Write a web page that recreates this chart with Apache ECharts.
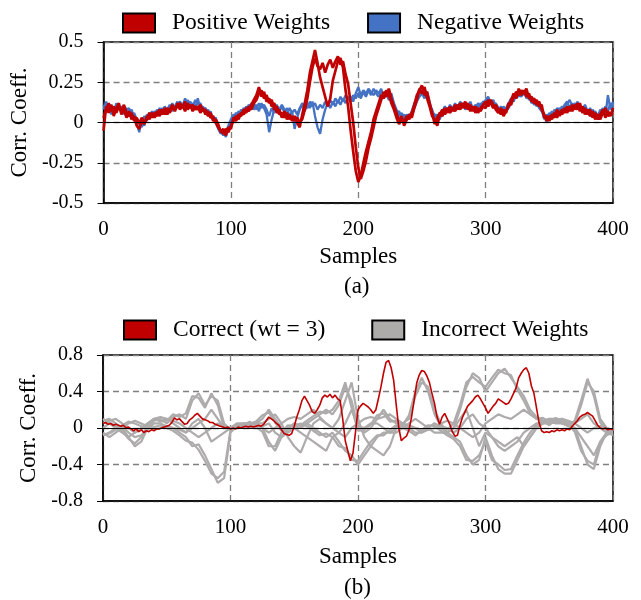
<!DOCTYPE html>
<html><head><meta charset="utf-8">
<script src="https://cdn.jsdelivr.net/npm/echarts@6/dist/echarts.min.js"></script>
<style>html,body{margin:0;padding:0;background:#fff;}#c{width:641px;height:600px;}</style>
</head><body><div id="c"></div>
<script>
// Panel (a): samples every 2
var stepA = 2;
var posA = [-0.05,0.10,0.06,0.11,0.04, 0.09,0.12,0.05,0.08,0.03, 0.07,0.02,0.04,-0.02,-0.04, 0.01,-0.01,0.04,0.02,0.06,
 0.03,0.07,0.04,0.08,0.05, 0.09,0.06,0.10,0.07,0.12, 0.08,0.11,0.07,0.12,0.09, 0.11,0.08,0.10,0.06,0.09,
 0.05,0.07,0.03,0.04,0.00, -0.03,-0.05,-0.07,-0.04,-0.06, -0.02,0.01,0.04,0.02,0.06, 0.05,0.09,0.07,0.11,0.14,
 0.17,0.22,0.16,0.19,0.13, 0.15,0.10,0.12,0.06,0.08, 0.03,0.07,0.02,0.05,0.01, 0.04,0.00,-0.03,0.05,0.12,
 0.20,0.31,0.38,0.45,0.37, 0.28,0.22,0.16,0.10,0.15, 0.26,0.32,0.38,0.40,0.34, 0.20,0.10,-0.05,-0.18,-0.30,
 -0.37,-0.33,-0.25,-0.18,-0.12, -0.06,0.02,0.07,0.12,0.17, 0.15,0.20,0.17,0.12,0.08, 0.03,-0.01,0.02,0.00,0.04,
 0.02,0.06,0.11,0.17,0.20, 0.23,0.17,0.19,0.12,0.06, -0.01,0.03,0.06,0.04,0.09, 0.06,0.10,0.07,0.11,0.08,
 0.12,0.09,0.13,0.08,0.11, 0.07,0.10,0.06,0.09,0.11, 0.13,0.10,0.14,0.11,0.08, 0.06,0.09,0.04,0.07,0.10,
 0.14,0.18,0.15,0.21,0.17, 0.20,0.16,0.18,0.13,0.15, 0.11,0.13,0.08,0.05,0.01, 0.04,0.02,0.06,0.03,0.07,
 0.05,0.09,0.06,0.10,0.07, 0.11,0.08,0.12,0.06,0.09, 0.05,0.08,0.03,0.06,0.02, 0.05,0.08,0.03,0.07,0.04, 0.09];
var posB = [0.03,0.08,0.12,0.07,0.10, 0.06,0.10,0.07,0.11,0.06, 0.04,0.06,0.01,0.03,-0.01, 0.03,0.00,0.02,0.06,0.03,
 0.06,0.04,0.08,0.05,0.09, 0.05,0.08,0.11,0.08,0.10, 0.12,0.09,0.13,0.08,0.11, 0.07,0.10,0.08,0.11,0.07,
 0.08,0.04,0.06,0.01,0.02, -0.01,-0.06,-0.04,-0.08,-0.03, -0.04,0.03,0.01,0.05,0.04, 0.08,0.06,0.10,0.08,0.12,
 0.14,0.18,0.20,0.15,0.17, 0.12,0.14,0.08,0.10,0.05, 0.06,0.03,0.06,0.02,0.04, 0.01,0.03,0.00,0.02,0.08,
 0.15,0.25,0.34,0.40,0.35, 0.33,0.37,0.31,0.36,0.39, 0.34,0.38,0.41,0.36,0.38, 0.30,0.24,0.12,0.00,-0.15,
 -0.28,-0.35,-0.30,-0.24,-0.16, -0.10,-0.03,0.04,0.09,0.14, 0.19,0.16,0.21,0.15,0.10, 0.06,0.01,0.04,-0.02,0.02,
 0.05,0.03,0.09,0.14,0.21, 0.18,0.22,0.15,0.10,0.04, 0.02,-0.02,0.05,0.08,0.05, 0.09,0.06,0.09,0.07,0.11,
 0.08,0.12,0.09,0.12,0.07, 0.10,0.06,0.09,0.07,0.10, 0.09,0.14,0.12,0.09,0.11, 0.08,0.05,0.08,0.06,0.12,
 0.11,0.16,0.19,0.17,0.20, 0.18,0.21,0.15,0.16,0.12, 0.14,0.10,0.11,0.03,0.04, 0.01,0.05,0.03,0.08,0.04,
 0.08,0.06,0.10,0.07,0.11, 0.08,0.12,0.07,0.10,0.05, 0.08,0.04,0.07,0.02,0.05, 0.02,0.06,0.09,0.04,0.06, 0.05];
var negA = [0.08,0.13,0.07,0.11,0.06, 0.12,0.08,0.10,0.05,0.09, 0.05,0.08,0.03,0.00,-0.06, 0.02,-0.02,0.05,0.03,0.07,
 0.04,0.08,0.05,0.09,0.06, 0.08,0.11,0.07,0.10,0.13, 0.09,0.12,0.10,0.14,0.10, 0.12,0.09,0.15,0.08,0.10,
 0.06,0.08,0.04,0.03,0.01, -0.04,-0.07,-0.05,-0.09,-0.04, 0.00,0.03,0.06,0.04,0.08, 0.06,0.10,0.07,0.12,0.08,
 0.11,0.07,0.12,0.09,0.05, -0.06,0.02,0.08,0.11,0.07, 0.10,0.06,0.09,0.04,0.07, -0.04,0.03,0.08,0.11,0.07,
 0.12,0.09,0.13,0.04,-0.03, -0.07,0.02,0.08,0.12,0.09, 0.13,0.10,0.14,0.11,0.15, 0.12,0.16,0.13,0.17,0.15,
 0.18,0.15,0.19,0.16,0.20, 0.17,0.21,0.18,0.16,0.19, 0.17,0.20,0.16,0.18,0.12, 0.08,0.04,0.06,0.02,0.05,
 0.03,0.07,0.12,0.15,0.18, 0.20,0.16,0.18,0.11,0.08, 0.03,0.05,0.02,0.07,0.10, 0.07,0.11,0.08,0.12,0.09,
 0.13,0.10,0.12,0.09,0.13, 0.08,0.11,0.09,0.12,0.10, 0.14,0.16,0.12,0.14,0.10, 0.07,0.10,0.06,0.09,0.12,
 0.15,0.13,0.18,0.16,0.19, 0.17,0.19,0.14,0.16,0.11, 0.13,0.09,0.07,0.04,0.00, 0.06,0.03,0.08,0.05,0.09,
 0.07,0.11,0.13,0.09,0.12, 0.09,0.13,0.10,0.08,0.11, 0.07,0.04,0.08,0.05,0.02, 0.06,0.09,0.04,0.17,0.08, 0.13];
var negB = [0.11,0.07,0.10,0.05,0.09, 0.07,0.11,0.06,0.10,0.07, 0.09,0.04,0.06,0.02,0.01, -0.03,0.04,0.01,0.06,0.04,
 0.07,0.05,0.09,0.06,0.10, 0.07,0.09,0.12,0.08,0.11, 0.13,0.10,0.15,0.11,0.13, 0.10,0.14,0.11,0.12,0.08,
 0.09,0.05,0.07,0.02,0.03, -0.02,-0.05,-0.08,-0.06,-0.02, 0.02,0.05,0.03,0.07,0.05, 0.09,0.07,0.11,0.09,0.12,
 0.08,0.12,0.09,0.11,0.08, 0.04,0.09,0.06,0.10,0.08, 0.11,0.08,0.05,0.09,0.06, 0.08,0.05,0.09,0.12,0.10,
 0.09,0.13,0.10,0.12,0.08, 0.11,0.09,0.13,0.10,0.14, 0.11,0.15,0.12,0.16,0.13, 0.17,0.14,0.16,0.13,0.18,
 0.22,0.17,0.20,0.18,0.21, 0.19,0.17,0.20,0.18,0.21, 0.15,0.18,0.14,0.16,0.10, 0.06,0.07,0.03,0.05,0.01,
 0.05,0.04,0.09,0.13,0.16, 0.18,0.15,0.19,0.13,0.06, 0.05,0.01,0.06,0.04,0.08, 0.09,0.07,0.10,0.08,0.11,
 0.10,0.12,0.08,0.11,0.09, 0.10,0.08,0.12,0.10,0.13, 0.12,0.15,0.13,0.10,0.12, 0.09,0.06,0.10,0.07,0.09,
 0.12,0.17,0.15,0.18,0.16, 0.20,0.15,0.17,0.12,0.14, 0.10,0.12,0.08,0.02,0.05, 0.03,0.07,0.04,0.09,0.07,
 0.10,0.08,0.12,0.14,0.10, 0.12,0.09,0.11,0.07,0.10, 0.06,0.09,0.05,0.07,0.04, 0.08,0.05,0.10,0.07,0.12, 0.10];

// Panel (b)
var stepCorrect = 2;
var correct = [0.05,0.06,0.04,0.05,0.03, 0.04,0.03,0.02,0.03,0.00, 0.01,-0.01,-0.03,-0.01,-0.04, -0.02,-0.05,-0.03,-0.04,-0.02,
 -0.03,-0.01,-0.01,0.00,0.01, 0.02,0.03,0.06,0.11,0.09, 0.10,0.07,0.04,0.05,0.09, 0.11,0.14,0.16,0.13,0.10,
 0.09,0.08,0.06,0.06,0.04, 0.03,0.02,0.01,0.00,0.01, -0.01,0.00,-0.01,0.01,0.00, 0.01,0.02,0.01,0.02,0.01,
 0.02,0.03,0.02,0.04,0.08, 0.12,0.10,0.08,0.05,0.03, -0.02,-0.06,-0.07,-0.08,-0.06, 0.02,0.12,0.20,0.30,0.35,
 0.30,0.25,0.18,0.16,0.20, 0.25,0.33,0.36,0.34,0.37, 0.33,0.36,0.32,0.30,0.10, -0.14,-0.25,-0.36,-0.28,-0.05,
 0.20,0.24,0.27,0.25,0.23, 0.20,0.16,0.20,0.32,0.45, 0.60,0.72,0.74,0.66,0.52, 0.25,0.00,-0.14,-0.11,-0.09,
 -0.02,0.12,0.30,0.49,0.58, 0.63,0.62,0.57,0.50,0.38, 0.27,0.12,0.04,0.12,0.16, 0.10,0.04,-0.04,-0.09,-0.08,
 0.03,0.12,0.18,0.24,0.27, 0.30,0.34,0.36,0.32,0.27, 0.22,0.16,0.20,0.24,0.27, 0.32,0.30,0.28,0.26,0.27,
 0.32,0.38,0.44,0.55,0.60, 0.64,0.66,0.60,0.46,0.38, 0.22,0.06,-0.03,-0.05,-0.04, -0.05,-0.03,-0.04,-0.02,-0.03,
 -0.02,-0.03,-0.01,-0.02,0.02, 0.05,0.08,0.12,0.14,0.15, 0.17,0.15,0.13,0.08,0.03, 0.00,-0.01,0.00,-0.02,-0.01, -0.02];
var stepGray = 5;
var gray1 = [0.08,0.10,0.05,0.00,-0.10,-0.20,-0.15,0.00,0.08,0.10,0.05,0.12,0.15,0.10,0.30,0.38,0.25,0.35,0.30,0.05,
 -0.02,0.02,0.04,0.03,0.05,0.10,0.20,0.10,0.00,-0.05,0.02,0.00,0.05,0.10,0.15,0.20,0.15,0.25,0.45,0.30,
 0.00,-0.05,0.00,0.10,0.20,0.10,0.05,0.05,0.10,0.35,0.50,0.45,0.20,0.05,-0.05,0.00,0.20,0.45,0.60,0.55,
 0.40,0.50,0.60,0.65,0.55,0.45,0.35,0.20,0.12,0.08,0.10,0.08,0.10,0.05,0.05,0.25,0.50,0.40,0.10,0.00,-0.02];
var gray2 = [0.10,0.06,0.02,-0.03,-0.12,-0.17,-0.10,0.03,0.10,0.07,0.08,0.15,0.12,0.16,0.35,0.33,0.22,0.38,0.25,0.00,
 0.00,0.04,0.02,0.05,0.07,0.14,0.17,0.06,-0.03,-0.02,0.05,0.03,0.08,0.13,0.18,0.16,0.20,0.30,0.50,0.22,
 -0.03,-0.02,0.04,0.14,0.16,0.07,0.08,0.03,0.14,0.40,0.55,0.40,0.15,0.02,-0.02,0.05,0.25,0.50,0.56,0.50,
 0.45,0.55,0.64,0.60,0.58,0.42,0.30,0.16,0.10,0.11,0.07,0.11,0.08,0.03,0.08,0.30,0.54,0.35,0.06,-0.03,-0.04];
var gray3 = [-0.05,-0.10,-0.05,0.00,0.05,0.08,0.05,0.02,-0.02,0.00,0.02,0.00,-0.05,-0.10,-0.20,-0.18,-0.30,-0.45,-0.60,-0.55,
 -0.05,0.02,0.05,0.05,0.03,0.00,-0.15,-0.25,-0.10,0.00,0.05,0.02,0.05,0.00,-0.05,-0.10,-0.05,-0.15,-0.25,-0.30,
 -0.40,-0.30,-0.20,-0.10,-0.05,-0.05,0.00,0.02,0.00,-0.05,-0.05,0.00,0.05,0.00,-0.05,-0.10,-0.15,-0.30,-0.40,-0.35,
 -0.10,-0.30,-0.45,-0.50,-0.50,-0.35,-0.20,-0.10,0.00,0.05,0.05,0.06,0.08,0.05,0.00,-0.20,-0.40,-0.45,-0.20,-0.05,-0.08];
var gray4 = [-0.08,-0.06,-0.02,0.03,0.07,0.05,0.02,-0.01,0.01,0.03,0.00,-0.03,-0.08,-0.14,-0.16,-0.24,-0.36,-0.50,-0.55,-0.48,
 -0.02,0.04,0.03,0.07,0.01,-0.04,-0.20,-0.20,-0.05,0.03,0.02,0.05,0.02,-0.03,-0.08,-0.06,-0.10,-0.20,-0.22,-0.35,
 -0.36,-0.25,-0.15,-0.08,-0.08,-0.02,0.03,0.00,-0.03,-0.08,-0.02,0.03,0.02,-0.03,-0.08,-0.12,-0.20,-0.35,-0.36,-0.30,
 -0.15,-0.35,-0.40,-0.46,-0.45,-0.30,-0.16,-0.05,0.03,0.08,0.03,0.09,0.05,0.03,-0.04,-0.25,-0.36,-0.40,-0.15,-0.08,-0.05];
var gray5 = [0.00,0.05,0.00,-0.05,-0.10,-0.05,0.00,0.05,0.10,0.08,0.10,0.05,0.00,-0.05,0.05,0.10,0.00,-0.15,-0.10,-0.05,
 0.00,0.05,0.05,0.04,0.05,0.05,0.10,0.15,0.05,-0.10,-0.20,-0.27,-0.10,0.05,0.10,0.05,0.00,0.10,0.30,0.50,
 0.10,-0.10,-0.20,-0.25,-0.30,-0.20,0.00,0.05,0.03,0.00,-0.02,0.00,0.05,0.02,0.00,-0.05,0.00,0.10,0.15,0.05,
 0.00,-0.10,-0.15,-0.20,-0.15,-0.10,-0.20,-0.10,0.00,0.05,0.10,0.10,0.08,0.05,0.05,0.10,0.15,0.05,0.00,-0.05,-0.05];
var gray6 = [0.05,0.08,0.10,0.05,0.00,-0.05,-0.02,0.05,0.10,0.12,0.10,0.08,0.05,0.00,-0.05,-0.10,-0.05,0.00,0.05,0.02,
 0.00,0.00,0.02,0.00,0.02,0.00,-0.05,0.00,0.05,0.10,0.12,0.10,0.15,0.20,0.12,0.05,0.00,-0.05,-0.10,0.00,
 0.05,0.10,0.12,0.10,0.12,0.15,0.10,0.05,0.02,0.00,-0.05,-0.02,0.00,0.05,0.08,0.05,0.00,-0.05,-0.10,-0.05,
 0.05,0.10,0.15,0.12,0.10,0.15,0.20,0.15,0.10,0.08,0.05,0.08,0.10,0.08,0.05,0.00,-0.05,0.00,0.02,0.00,-0.03];
var gray7 = [-0.08,-0.05,0.00,0.02,-0.05,-0.10,-0.08,-0.02,0.05,0.05,0.02,0.00,-0.02,-0.05,0.00,0.05,0.10,0.20,0.10,0.00,
 0.00,0.03,0.03,0.05,0.03,0.02,0.05,-0.05,-0.10,-0.05,0.00,-0.05,-0.10,-0.15,-0.20,-0.25,-0.10,-0.05,0.05,0.20,
 0.02,0.00,0.05,0.05,0.00,-0.05,-0.05,0.00,0.05,0.10,0.05,0.00,-0.05,-0.05,-0.05,0.00,0.10,0.20,0.00,-0.20,
 -0.05,-0.10,-0.20,-0.25,-0.20,-0.15,-0.05,0.00,0.05,0.05,0.08,0.05,0.05,0.02,0.00,-0.10,-0.20,-0.30,-0.15,-0.05,-0.05];
var grays = [gray1, gray2, gray3, gray4, gray5, gray6, gray7];

var xTicks = [0, 100, 200, 300, 400];
var yTicksA = [-0.5, -0.25, 0, 0.25, 0.5];
var yTicksB = [-0.8, -0.4, 0, 0.4, 0.8];

var RED = '#c00000', BLUE = '#4472c4', GRAY = '#aeabab';
var FONT = 'Liberation Serif';

function pairs(arr, step) { return arr.map(function (v, i) { return [i * step, v]; }); }

function xAxisCfg(idx, gap) {
  return {
    type: 'value', gridIndex: idx, min: xTicks[0], max: xTicks[xTicks.length - 1], interval: 100,
    name: 'Samples', nameLocation: 'middle', nameGap: gap,
    nameTextStyle: { fontFamily: FONT, fontSize: 23, color: '#000' },
    axisLine: { show: true, onZero: false, lineStyle: { color: '#000', width: 1.5 } },
    axisTick: { show: false },
    axisLabel: { fontFamily: FONT, fontSize: 21, color: '#000', margin: 16 },
    splitLine: { show: true, lineStyle: { color: '#7f7f7f', type: [6, 4], width: 1.3 } }
  };
}
function yAxisCfg(idx, ticks) {
  return {
    type: 'value', gridIndex: idx, min: ticks[0], max: ticks[ticks.length - 1], interval: ticks[1] - ticks[0],
    name: 'Corr. Coeff.', nameLocation: 'middle', nameGap: 62, nameRotate: 90,
    nameTextStyle: { fontFamily: FONT, fontSize: 23, color: '#000' },
    axisLine: { show: true, lineStyle: { color: '#000', width: 1.5 } },
    axisTick: { show: true, inside: false, length: 6, lineStyle: { color: '#000', width: 1 } },
    axisLabel: { fontFamily: FONT, fontSize: 20, color: '#000', margin: 20 },
    splitLine: { show: true, lineStyle: { color: '#7f7f7f', type: [6, 4], width: 1.3 } }
  };
}
function lineSeries(name, data, step, color, width, xi, yi, z) {
  return { name: name, type: 'line', xAxisIndex: xi, yAxisIndex: yi, data: pairs(data, step),
    showSymbol: false, symbol: 'none', animation: false, z: z,
    lineStyle: { color: color, width: width }, itemStyle: { color: color } };
}
var zeroLine = function () {
  return { silent: true, symbol: 'none', label: { show: false },
    lineStyle: { color: '#000', type: 'solid', width: 1.2 }, data: [{ yAxis: 0 }] };
};

var series = [];
var s;
s = lineSeries('Negative Weights', negA, stepA, BLUE, 2.3, 0, 0, 2); s.markLine = zeroLine(); series.push(s);
series.push(lineSeries('Negative Weights', negB, stepA, BLUE, 2.3, 0, 0, 2));
series.push(lineSeries('Positive Weights', posB, stepA, RED, 2.7, 0, 0, 3));
series.push(lineSeries('Positive Weights', posA, stepA, RED, 2.7, 0, 0, 3));
grays.forEach(function (g, i) {
  var gs = lineSeries('Incorrect Weights', g, stepGray, GRAY, 2.2, 1, 1, 2);
  if (i === 0) gs.markLine = zeroLine();
  series.push(gs);
});
series.push(lineSeries('Correct (wt = 3)', correct, stepCorrect, RED, 1.6, 1, 1, 4));

function legendCfg(names, left, top, gap) {
  return {
    data: names, left: left, top: top,
    icon: 'rect', itemWidth: 32, itemHeight: 19, itemGap: gap,
    textStyle: { fontFamily: FONT, fontSize: 23.5, color: '#000', padding: [0, 0, 0, 12] },
    itemStyle: { borderColor: '#000', borderWidth: 2 }
  };
}

var chart = echarts.init(document.getElementById('c'), null, { renderer: 'canvas' });
chart.setOption({
  backgroundColor: '#fff',
  animation: false,
  grid: [
    { left: 103, top: 42, width: 510, height: 161, show: true, borderColor: '#000', borderWidth: 1.5, backgroundColor: 'transparent' },
    { left: 103, top: 355, width: 510, height: 146, show: true, borderColor: '#000', borderWidth: 1.5, backgroundColor: 'transparent' }
  ],
  legend: [
    legendCfg(['Positive Weights', 'Negative Weights'], 117, 6, 37),
    legendCfg(['Correct (wt = 3)', 'Incorrect Weights'], 118, 313, 46)
  ],
  xAxis: [xAxisCfg(0, 42), xAxisCfg(1, 44)],
  yAxis: [yAxisCfg(0, yTicksA), yAxisCfg(1, yTicksB)],
  graphic: [
    { type: 'text', left: 344, top: 275, style: { text: '(a)', font: '23px "Liberation Serif"', fill: '#000' } },
    { type: 'text', left: 344, top: 576, style: { text: '(b)', font: '23px "Liberation Serif"', fill: '#000' } }
  ],
  series: series
});
</script></body></html>
